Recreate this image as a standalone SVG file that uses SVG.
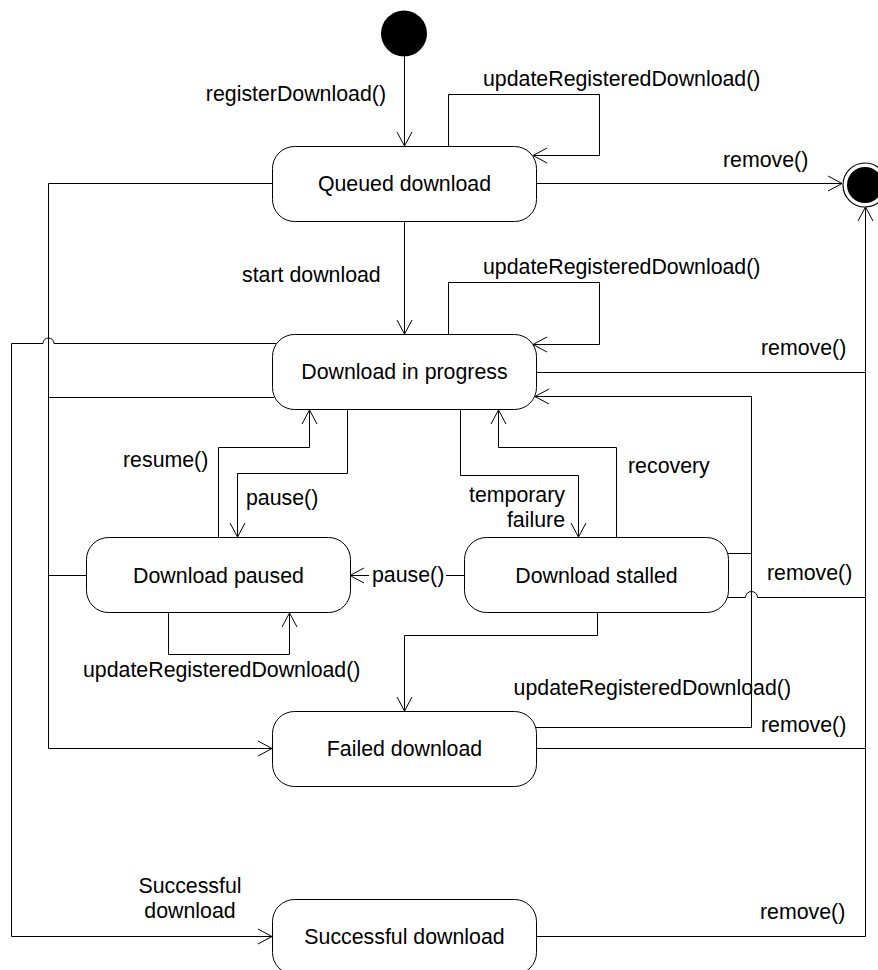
<svg xmlns="http://www.w3.org/2000/svg" width="878" height="970" viewBox="0 0 878 970">
<style>
text{font-family:"Liberation Sans",Arial,sans-serif;font-size:21.33px;fill:#000}
.st rect{fill:#fff;stroke:#000;stroke-width:1}
.st text{text-anchor:middle}
#connectors path{fill:none;stroke:#000;stroke-width:1}
.arr{marker-end:url(#ah)}
.lbl text.e{text-anchor:end}
.lbl text.m{text-anchor:middle}
</style>
<defs>
<marker id="ah" markerUnits="userSpaceOnUse" markerWidth="16" markerHeight="18" viewBox="0 0 16 18" refX="15" refY="9" orient="auto">
<path d="M1,1.5 L15,9 L1,16.5" fill="none" stroke="#000" stroke-width="1"/>
</marker>
</defs>
<rect x="0" y="0" width="878" height="970" fill="#fff"/>

<g id="connectors">
<path class="arr" d="M404.5,56 V146"/>
<path class="arr" d="M448.5,146 V94.5 H599.5 V155.5 H533"/>
<path class="arr" d="M537,183.5 H842"/>
<path d="M272,183.5 H48.5 V748.5"/>
<path class="arr" d="M48.5,748.5 H272"/>
<path class="arr" d="M404.5,222 V334"/>
<path class="arr" d="M448.5,334 V282.5 H599.5 V344.5 H533"/>
<path d="M276,343.5 H54 A5.5,5.5 0 0 0 43,343.5 H11.5 V936.5"/>
<path class="arr" d="M11.5,936.5 H272"/>
<path d="M274,397.5 H48.5"/>
<path d="M537,372.5 H865.5"/>
<path class="arr" d="M865.5,936.5 V207"/>
<path class="arr" d="M218.5,537 V447.5 H309.5 V410"/>
<path class="arr" d="M347.5,410 V473.5 H237.5 V537"/>
<path class="arr" d="M460.5,410 V475.5 H578.5 V537"/>
<path class="arr" d="M616.5,537 V447.5 H498.5 V410"/>
<path class="arr" d="M728,553.5 H751.5 V396.5 H535"/>
<path d="M533,727.5 H751.5 V553.5"/>
<path d="M728,597.5 H745.5 A6,6 0 0 1 757.5,597.5 H865.5"/>
<path d="M464,575.5 H446"/>
<path class="arr" d="M369,575.5 H350"/>
<path d="M86,575.5 H48.5"/>
<path class="arr" d="M168.5,613 V654.5 H289.5 V613"/>
<path class="arr" d="M597.5,613 V635.5 H404.5 V711"/>
<path d="M537,748.5 H865.5"/>
<path d="M537,936.5 H865.5"/>
</g>

<g class="lbl">
<text class="e" x="386" y="101">registerDownload()</text>
<text x="483" y="86">updateRegisteredDownload()</text>
<text x="723" y="167">remove()</text>
<text x="242" y="282">start download</text>
<text x="483" y="274">updateRegisteredDownload()</text>
<text x="761" y="355">remove()</text>
<text x="123" y="467">resume()</text>
<text x="246" y="505">pause()</text>
<text class="e" x="565" y="502">temporary</text>
<text class="e" x="565" y="527">failure</text>
<text x="628" y="473">recovery</text>
<text x="372" y="582">pause()</text>
<text x="767" y="580">remove()</text>
<text x="83" y="677">updateRegisteredDownload()</text>
<text class="e" x="791" y="695">updateRegisteredDownload()</text>
<text x="761" y="732">remove()</text>
<text class="m" x="190" y="893">Successful</text>
<text class="m" x="190" y="918">download</text>
<text x="760" y="919">remove()</text>
</g>

<g id="initial"><circle cx="404" cy="33.5" r="23" fill="#000"/></g>
<g id="final"><circle cx="865" cy="185" r="22" fill="#fff" stroke="#000" stroke-width="1.2"/><circle cx="865" cy="185" r="18" fill="#000"/></g>

<g id="queued" class="st"><rect x="272.5" y="146.5" width="264" height="75" rx="22" ry="22"/><text x="404.5" y="191">Queued download</text></g>
<g id="progress" class="st"><rect x="272.5" y="334.5" width="264" height="75" rx="22" ry="22"/><text x="404.5" y="379">Download in progress</text></g>
<g id="paused" class="st"><rect x="86.5" y="537.5" width="264" height="75" rx="22" ry="22"/><text x="218.5" y="583">Download paused</text></g>
<g id="stalled" class="st"><rect x="464.5" y="537.5" width="264" height="75" rx="22" ry="22"/><text x="596.5" y="583">Download stalled</text></g>
<g id="failed" class="st"><rect x="272.5" y="711.5" width="264" height="75" rx="22" ry="22"/><text x="404.5" y="756">Failed download</text></g>
<g id="successful" class="st"><rect x="272.5" y="899.5" width="264" height="75" rx="22" ry="22"/><text x="404.5" y="944">Successful download</text></g>
</svg>
